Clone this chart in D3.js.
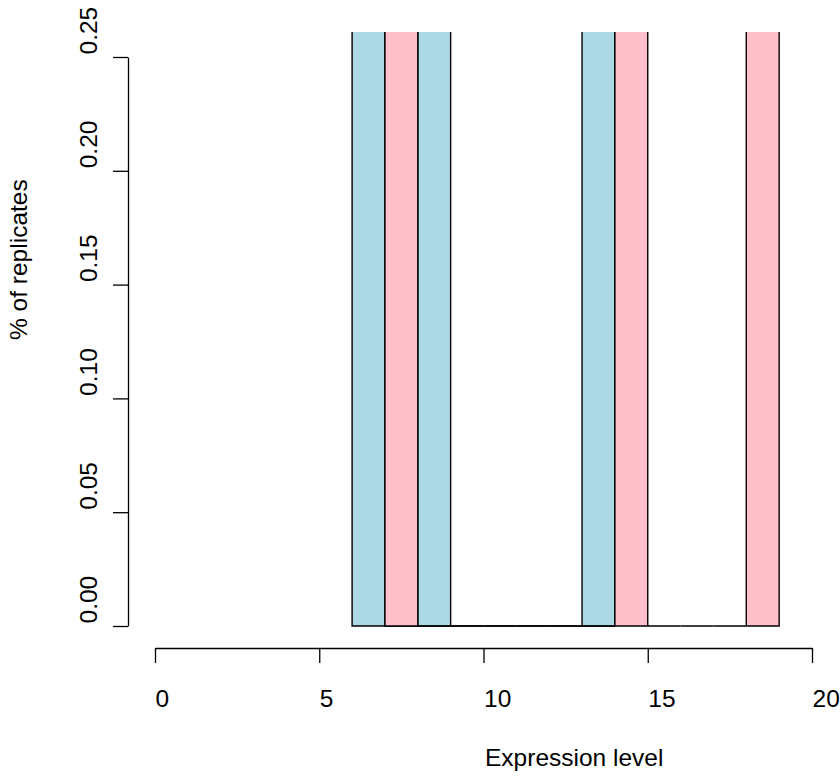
<!DOCTYPE html>
<html>
<head>
<meta charset="utf-8">
<script src="https://cdn.jsdelivr.net/npm/d3@7"></script>
<style>
  body { margin: 0; background: #fff; }
  svg { display: block; font-family: "Liberation Sans", Arial, sans-serif; }
  .axis text { font-size: 24.5px; fill: #000; font-family: "Liberation Sans", Arial, sans-serif; }
  .axis path, .axis line { stroke: #000; stroke-width: 1.3; }
  .label { font-size: 24.5px; fill: #000; }
</style>
</head>
<body>
<svg id="chart"></svg>
<script>
// bins are 1 unit wide, value is the density of each bin
var blueStarts = [6, 7, 8, 9, 10, 11, 12, 13]
var blueValues = [0.333, 0, 0.333, 0, 0, 0, 0, 0.333]

var pinkStarts = [7, 8, 9, 10, 11, 12, 13, 14, 15, 16, 17, 18]
var pinkValues = [0.333, 0, 0, 0, 0, 0, 0, 0.333, 0, 0, 0, 0.333]

var xTicks = [0, 5, 10, 15, 20]
var yTicks = [0, 0.05, 0.10, 0.15, 0.20, 0.25]

var screen = {width: 840, height: 778}

var svg = d3.select("#chart")
    .attr("width", screen.width)
    .attr("height", screen.height)

var xScale = d3.scaleLinear()
    .domain([0, 20])
    .range([155, 812])

var yScale = d3.scaleLinear()
    .domain([0, 0.25])
    .range([626, 57])

// plot region (R clips bars to it)
svg.append("clipPath")
    .attr("id", "plotClip")
    .append("rect")
    .attr("x", 129)
    .attr("y", 32)
    .attr("width", 711)
    .attr("height", 617)

var bars = svg.append("g")
    .attr("clip-path", "url(#plotClip)")

// paths instead of rects so empty bins still show as a line
var drawBars = function(starts, values, colour)
{
    bars.append("g")
        .selectAll("path")
        .data(starts)
        .enter()
        .append("path")
        .attr("d", function(d, i) {
            var x0 = xScale(d), x1 = xScale(d + 1)
            var y0 = yScale(0), y1 = yScale(values[i])
            return "M" + x0 + "," + y0 + "H" + x1 + "V" + y1 + "H" + x0 + "Z"
        })
        .attr("fill", colour)
        .attr("stroke", "#000")
        .attr("stroke-width", 1.4)
}

drawBars(blueStarts, blueValues, "#ADD8E6")
drawBars(pinkStarts, pinkValues, "#FFC0CB")

// axes
var xAxis = d3.axisBottom(xScale)
    .tickValues(xTicks)
    .tickFormat(d3.format("d"))
    .tickSize(15)
    .tickSizeOuter(0)

var gx = svg.append("g")
    .classed("axis", true)
    .attr("transform", "translate(0,648)")
    .call(xAxis)

gx.selectAll("text")
    .attr("text-anchor", "start")
    .attr("dy", null)
    .attr("y", 59)

var yAxis = d3.axisLeft(yScale)
    .tickValues(yTicks)
    .tickFormat(d3.format(".2f"))
    .tickSize(15)
    .tickSizeOuter(0)

var gy = svg.append("g")
    .classed("axis", true)
    .attr("transform", "translate(128,0)")
    .call(yAxis)

gy.selectAll("text")
    .attr("text-anchor", "start")
    .attr("dy", null)
    .attr("x", null)
    .attr("transform", "translate(-31,-3) rotate(-90)")

// labels
svg.append("text")
    .classed("label", true)
    .attr("x", 485)
    .attr("y", 766)
    .attr("text-anchor", "start")
    .text("Expression level")

svg.append("text")
    .classed("label", true)
    .attr("transform", "translate(27,340) rotate(-90)")
    .attr("text-anchor", "start")
    .text("% of replicates")
</script>
</body>
</html>
